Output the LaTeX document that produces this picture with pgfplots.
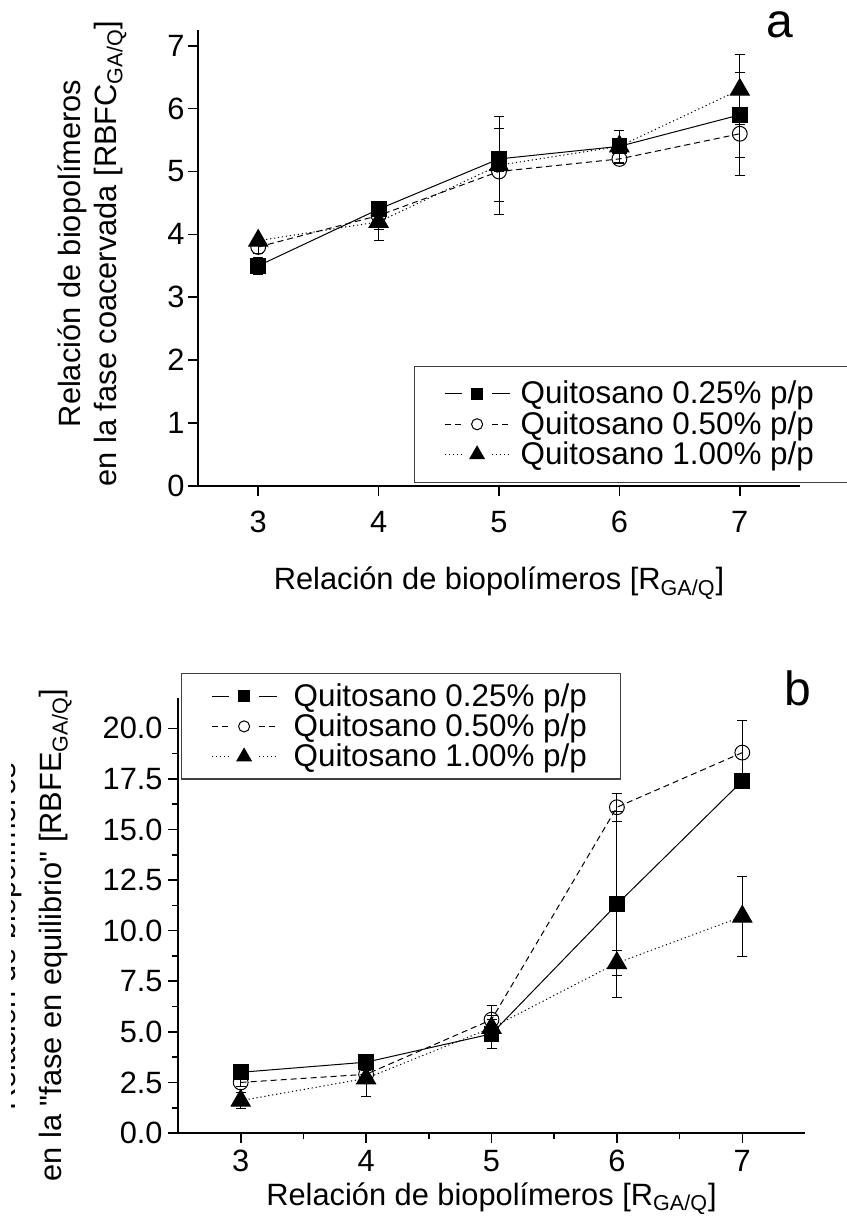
\documentclass[border=0pt]{standalone}
\usepackage{pgfplots}
\usepackage{pgfplotstable}
\pgfplotsset{compat=1.18}
\usepackage{fontspec}
\setmainfont{Liberation Sans}

% values: x, mean and error for each chitosan level
\pgfplotstableread{
x sq sqe ci cie tr tre
3 3.5 0.13 3.8 0.10 3.9 0.05
4 4.4 0.10 4.3 0.22 4.2 0.30
5 5.2 0.68 5.0 0.68 5.1 0.10
6 5.4 0.25 5.2 0.08 5.4 0.10
7 5.9 0.67 5.6 0.67 6.3 0.56
}\coacervada
\pgfplotstableread{
x sq sqe ci cie tr tre
3 3.0 0.1 2.5 0.2 1.6 0.4
4 3.5 0.1 2.9 0.2 2.7 0.9
5 4.9 0.7 5.6 0.7 5.2 0.6
6 11.3 4.6 16.1 0.7 8.4 0.6
7 17.4 0.3 18.8 1.6 10.7 2.0
}\equilibrio

\newcommand{\figfont}{\fontsize{15.4}{18}\selectfont}
\pgfplotsset{
  panel/.style={
    scale only axis, axis x line=bottom, axis y line=left,
    axis line style={-, line width=1pt},
    tick align=outside, major tick length=5pt, minor tick length=3pt,
    every tick/.style={black, line width=0.8pt},
    xmin=2.5, xmax=7.5, xtick={3,4,5,6,7}, ymin=0,
    tick label style={font=\figfont},
    /pgf/number format/assume math mode=true,
    legend cell align=left,
    legend style={draw=black!75, line width=0.6pt, font=\fontsize{15.7}{18}\selectfont,
      inner xsep=15pt, row sep=-1.75pt, column sep=3pt},
    % line - mark - line, with small gaps, as in the original legend
    legend image code/.code={
      \draw[#1] (0pt,0pt) -- (8.5pt,0pt);
      \draw[#1] (23.5pt,0pt) -- (32.5pt,0pt);
      \draw[#1, every mark/.append style={scale=0.75}] plot coordinates {(16pt,0pt)};},
  },
  ebar/.style={error bars/.cd, y dir=both, y explicit,
    error bar style={solid, line width=0.5pt},
    error mark options={rotate=90, mark size=2.5pt, line width=0.5pt, solid}},
  s1/.style={black, line width=0.5pt, solid, mark=square*, mark size=3.7pt,
    mark options={solid, fill=black}},
  s2/.style={black, line width=0.5pt, dash pattern=on 3pt off 2pt, mark=o, mark size=3.7pt,
    mark options={solid, fill=white}},
  s3/.style={black, line width=0.5pt, dash pattern=on 0.6pt off 1.4pt, mark=triangle*, mark size=5.5pt,
    mark options={solid, fill=black}},
}

\begin{document}
\begin{tikzpicture}
\useasboundingbox (0,0) rectangle (423pt,612pt);

\begin{axis}[panel, at={(99pt,369pt)}, anchor=south west,
  width=301pt, height=228pt, ymax=7.25, ytick={0,...,7},
  xticklabel style={yshift=-4pt}, yticklabel style={inner xsep=1.5pt},
  xlabel={Relación de biopolímeros [R\textsubscript{GA/Q}]},
  ylabel={Relación de biopolímeros\\en la fase coacervada [RBFC\textsubscript{GA/Q}]},
  every axis x label/.style={at={(axis description cs:0.5,0)}, anchor=base, yshift=-52pt, font=\figfont},
  every axis y label/.style={at={(axis description cs:-0.118,0.51)}, rotate=90, anchor=south,
    align=center, inner sep=0pt, font=\figfont},
  legend style={at={(0.3588,0.0066)}, anchor=south west, inner ysep=5.5pt}]
\addplot[s1, ebar] table[x=x, y=sq, y error=sqe] {\coacervada};
\addlegendentry{Quitosano 0.25\% p/p}
\addplot[s2, ebar] table[x=x, y=ci, y error=cie] {\coacervada};
\addlegendentry{Quitosano 0.50\% p/p}
\addplot[s3, ebar] table[x=x, y=tr, y error=tre] {\coacervada};
\addlegendentry{Quitosano 1.00\% p/p}
\end{axis}

\begin{axis}[panel, at={(89pt,45.5pt)}, anchor=south west,
  width=313.5pt, height=217.5pt, ymax=21.5, ytick={0,2.5,...,20},
  minor x tick num=1, minor y tick num=1,
  yticklabel style={inner xsep=2.5pt, /pgf/number format/.cd, fixed, fixed zerofill, precision=1},
  xlabel={Relación de biopolímeros [R\textsubscript{GA/Q}]},
  ylabel={en la \textquotedbl fase en equilibrio\textquotedbl{} [RBFE\textsubscript{GA/Q}]},
  every axis x label/.style={at={(axis description cs:0.5,0)}, anchor=base, yshift=-36pt, font=\figfont},
  every axis y label/.style={at={(axis description cs:-0.169,0.455)}, rotate=90, anchor=south,
    inner sep=0pt, font=\figfont},
  legend style={at={(0.0048,1.057)}, anchor=north west, inner ysep=2.75pt, column sep=6pt}]
\addplot[s1, ebar] table[x=x, y=sq, y error=sqe] {\equilibrio};
\addlegendentry{Quitosano 0.25\% p/p}
\addplot[s2, ebar] table[x=x, y=ci, y error=cie] {\equilibrio};
\addlegendentry{Quitosano 0.50\% p/p}
\addplot[s3, ebar] table[x=x, y=tr, y error=tre] {\equilibrio};
\addlegendentry{Quitosano 1.00\% p/p}
\end{axis}

% first line of the lower y label, mostly cut off in the original figure
\node[rotate=90, anchor=base, font=\figfont] at (7.5pt,143.5pt) {Relación de biopolímeros};
\fill[white] (-2pt,20pt) rectangle (5.5pt,260pt);

\node[font=\fontsize{24}{28}\selectfont] at (390pt,599.5pt) {a};
\node[font=\fontsize{24}{28}\selectfont] at (399pt,268pt) {b};
\end{tikzpicture}
\end{document}
